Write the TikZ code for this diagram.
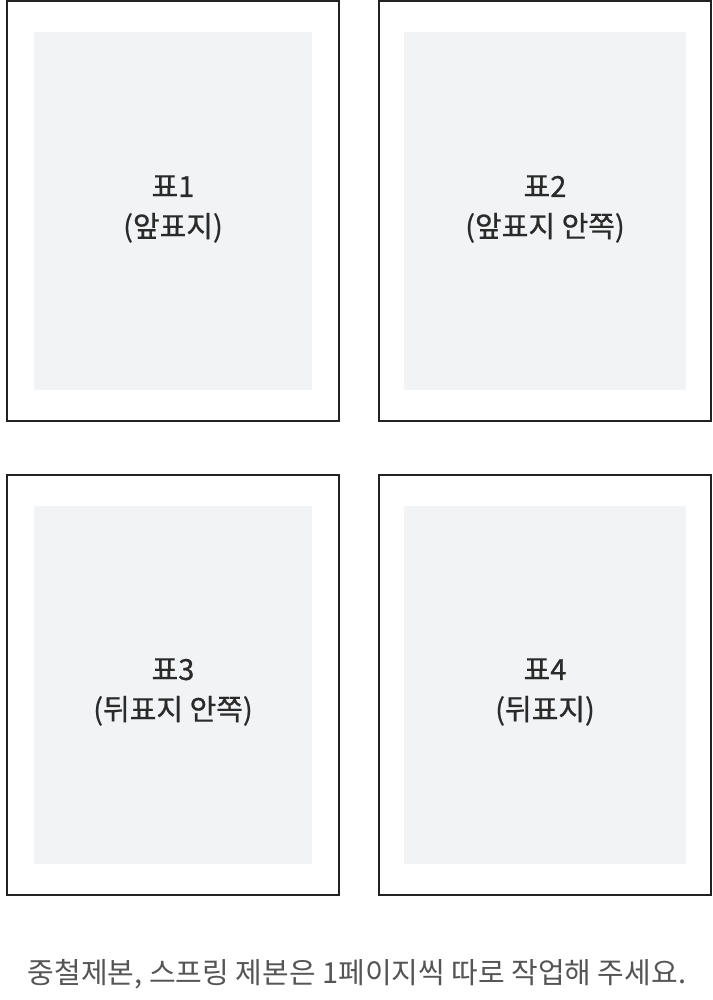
\documentclass[tikz,border=0pt]{standalone}
\usepackage{fontspec}
\setmainfont{Noto Sans CJK KR}
\newfontfamily\labelfont[FakeBold=0.7]{Noto Sans CJK KR}
\definecolor{edge}{HTML}{222222}
\definecolor{paper}{HTML}{F2F3F5}
\definecolor{labeltext}{HTML}{2A2A2A}
\definecolor{notetext}{HTML}{555555}
\begin{document}
\begin{tikzpicture}[x=1pt,y=-1pt,
  frame/.style={draw=edge,line width=2pt,fill=white},
  sheet/.style={fill=paper,draw=none},
  label/.style={text=labeltext,font=\labelfont\fontsize{29}{40}\selectfont,align=center},
  note/.style={text=notetext,font=\fontsize{29}{34}\selectfont}]
\useasboundingbox (0,0) rectangle (712,1000);
% top-left
\draw[frame] (7,1) rectangle (339,421);
\fill[sheet] (34,32) rectangle (312,390);
\node[label] (p1) at (173,209) {표1\\(앞표지)};
% top-right
\draw[frame] (379,1) rectangle (711,421);
\fill[sheet] (404,32) rectangle (686,390);
\node[label] (p2) at (545,209) {표2\\(앞표지 안쪽)};
% bottom-left
\draw[frame] (7,475) rectangle (339,895);
\fill[sheet] (34,506) rectangle (312,864);
\node[label] (p3) at (173,692) {표3\\(뒤표지 안쪽)};
% bottom-right
\draw[frame] (379,475) rectangle (711,895);
\fill[sheet] (404,506) rectangle (686,864);
\node[label] (p4) at (545,692) {표4\\(뒤표지)};
% note
\node[note] (n) at (357,974) {중철제본, 스프링 제본은 1페이지씩 따로 작업해 주세요.};
\end{tikzpicture}
\end{document}
